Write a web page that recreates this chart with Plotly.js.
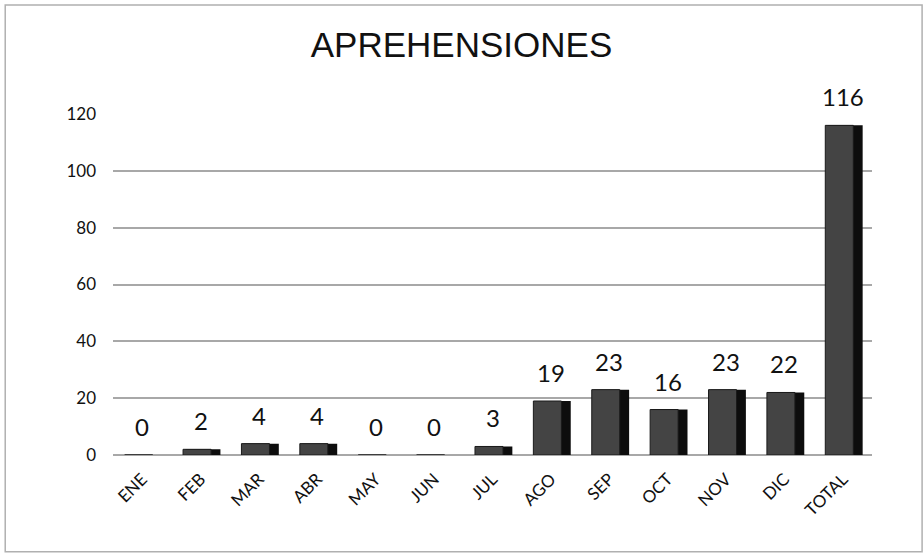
<!DOCTYPE html>
<html>
<head>
<meta charset="utf-8">
<script src="https://cdn.plot.ly/plotly-3.0.1.min.js"></script>
<style>html,body{margin:0;padding:0;background:#fff;}#chart{width:923px;height:555px;}</style>
</head>
<body>
<div id="chart"></div>
<script>
const categories = ["ENE","FEB","MAR","ABR","MAY","JUN","JUL","AGO","SEP","OCT","NOV","DIC","TOTAL"];
const values = [0,2,4,4,0,0,3,19,23,16,23,22,116];
const yTicks = [0,20,40,60,80,100,120];

const FONT = 'Lato, "Open Sans", sans-serif';

const sideTrace = {
  type: 'bar', x: categories, y: values,
  width: 0.6, offset: -0.26,
  marker: {color: '#0d0d0d', line: {width: 0}},
  hoverinfo: 'skip'
};
const frontTrace = {
  type: 'bar', x: categories, y: values,
  width: 0.48, offset: -0.3,
  marker: {color: '#444444', line: {color: '#1a1a1a', width: 1}},
  hoverinfo: 'x+y'
};

const labels = categories.map((c, i) => ({
  x: c, y: values[i], xref: 'x', yref: 'y',
  text: String(values[i]), showarrow: false,
  yanchor: 'bottom', xanchor: 'center', yshift: 12, xshift: 0,
  font: {family: FONT, size: 24, color: '#111'}
}));

const layout = {
  width: 923, height: 555,
  paper_bgcolor: '#ffffff', plot_bgcolor: '#ffffff',
  margin: {l: 113, r: 51, t: 114, b: 100},
  title: {text: 'APREHENSIONES', font: {family: '"Liberation Sans", Arial, sans-serif', size: 35, color: '#111'}, x: 0.5, xanchor: 'center', y: 0.92, yanchor: 'middle'},
  showlegend: false,
  barmode: 'overlay',
  xaxis: {
    type: 'category',
    tickangle: -45,
    tickfont: {family: FONT, size: 17, color: '#111'},
    ticklabelstandoff: 10,
    showline: false, ticks: '', showgrid: false, zeroline: false
  },
  yaxis: {
    range: [0, 120],
    tickvals: yTicks,
    ticktext: yTicks.map(String),
    tickfont: {family: FONT, size: 17, color: '#111'},
    ticklabelstandoff: 16,
    showgrid: true, gridcolor: '#a8a8a8', gridwidth: 2,
    zeroline: true, zerolinecolor: '#a8a8a8', zerolinewidth: 2,
    showline: false, ticks: '', ticklen: 0
  },
  annotations: labels,
  shapes: [{type: 'rect', xref: 'paper', yref: 'paper', x0: -0.142, x1: 1.066, y0: -0.284, y1: 1.32, line: {color: '#b0b0b0', width: 1.5}}]
};

Plotly.newPlot('chart', [sideTrace, frontTrace], layout, {displayModeBar: false, staticPlot: true});
</script>
</body>
</html>
